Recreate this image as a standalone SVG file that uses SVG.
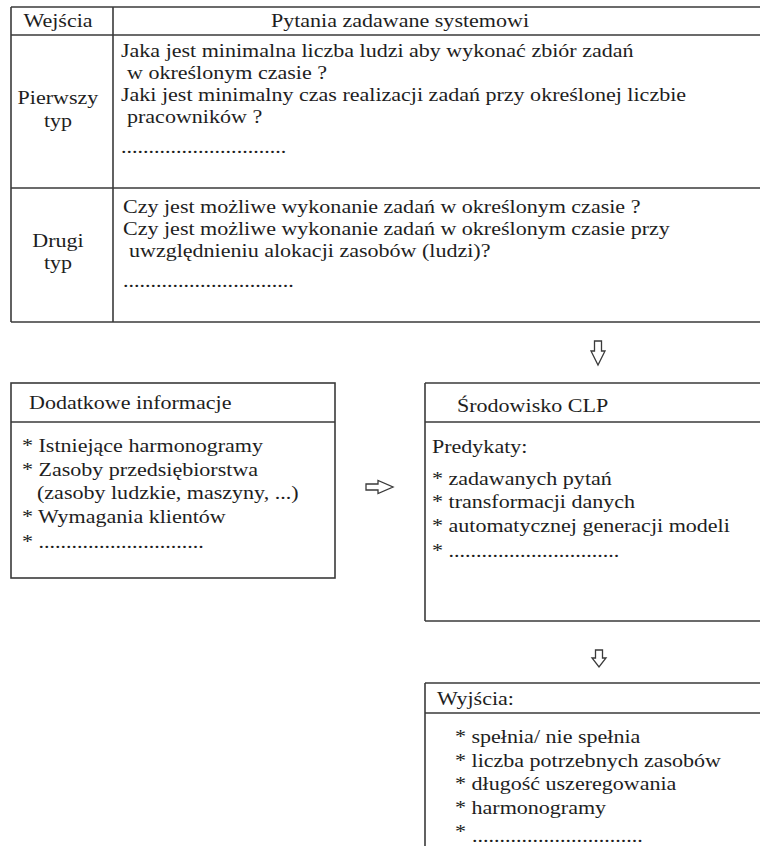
<svg xmlns="http://www.w3.org/2000/svg" width="760" height="846" viewBox="0 0 760 846">
<style>
  .ln { stroke: #3a3a3a; stroke-width: 1.6; fill: none; }
  .t { font-family: 'Liberation Serif', 'Times New Roman', serif; font-size: 19px; fill: #1e1e1e;
       transform-box: fill-box; transform-origin: 0 0; transform: scaleX(1.16); }
  .c { text-anchor: middle; transform-origin: 50% 0; }
  .arrow { fill: #ffffff; stroke: #3a3a3a; stroke-width: 1.3; stroke-linejoin: miter; }
</style>
<rect x="0" y="0" width="760" height="846" fill="#ffffff"/>

<g id="table">
  <line class="ln" x1="11" y1="7" x2="760" y2="7"/>
  <line class="ln" x1="11" y1="35" x2="760" y2="35"/>
  <line class="ln" x1="11" y1="188" x2="760" y2="188"/>
  <line class="ln" x1="11" y1="322" x2="760" y2="322"/>
  <line class="ln" x1="11" y1="7" x2="11" y2="322"/>
  <line class="ln" x1="113" y1="7" x2="113" y2="322"/>
  <text class="t c" x="58" y="27">Wejścia</text>
  <text class="t c" x="400" y="27">Pytania zadawane systemowi</text>
  <text class="t c" x="58" y="104">Pierwszy</text>
  <text class="t c" x="58" y="127">typ</text>
  <text class="t" x="121" y="57">Jaka jest minimalna liczba ludzi aby wykonać zbiór zadań</text>
  <text class="t" x="127" y="79">w określonym czasie ?</text>
  <text class="t" x="121" y="101">Jaki jest minimalny czas realizacji zadań przy określonej liczbie</text>
  <text class="t" x="127" y="123">pracowników ?</text>
  <text class="t" x="121" y="153">..............................</text>
  <text class="t c" x="58" y="247">Drugi</text>
  <text class="t c" x="58" y="269">typ</text>
  <text class="t" x="123" y="213">Czy jest możliwe wykonanie zadań w określonym czasie ?</text>
  <text class="t" x="123" y="235">Czy jest możliwe wykonanie zadań w określonym czasie przy</text>
  <text class="t" x="129" y="257">uwzględnieniu alokacji zasobów (ludzi)?</text>
  <text class="t" x="123" y="287">...............................</text>
</g>

<g id="dodatkowe">
  <rect class="ln" x="11" y="383" width="324" height="195"/>
  <line class="ln" x1="11" y1="422" x2="335" y2="422"/>
  <text class="t" x="29" y="409">Dodatkowe informacje</text>
  <text class="t" x="22" y="452">* Istniejące harmonogramy</text>
  <text class="t" x="22" y="476">* Zasoby przedsiębiorstwa</text>
  <text class="t" x="37" y="499">(zasoby ludzkie, maszyny, ...)</text>
  <text class="t" x="22" y="523">* Wymagania klientów</text>
  <text class="t" x="22" y="548">* ..............................</text>
</g>

<g id="clp">
  <line class="ln" x1="425" y1="383" x2="760" y2="383"/>
  <line class="ln" x1="425" y1="422" x2="760" y2="422"/>
  <line class="ln" x1="425" y1="621" x2="760" y2="621"/>
  <line class="ln" x1="425" y1="383" x2="425" y2="621"/>
  <text class="t" x="457" y="412">Środowisko CLP</text>
  <text class="t" x="432" y="453">Predykaty:</text>
  <text class="t" x="432" y="485">* zadawanych pytań</text>
  <text class="t" x="432" y="508">* transformacji danych</text>
  <text class="t" x="432" y="532">* automatycznej generacji modeli</text>
  <text class="t" x="432" y="557">* ...............................</text>
</g>

<g id="wyjscia">
  <line class="ln" x1="425" y1="683" x2="760" y2="683"/>
  <line class="ln" x1="425" y1="713" x2="760" y2="713"/>
  <line class="ln" x1="425" y1="683" x2="425" y2="846"/>
  <text class="t" x="437" y="705">Wyjścia:</text>
  <text class="t" x="455" y="743">* spełnia/ nie spełnia</text>
  <text class="t" x="455" y="767">* liczba potrzebnych zasobów</text>
  <text class="t" x="455" y="790">* długość uszeregowania</text>
  <text class="t" x="455" y="814">* harmonogramy</text>
  <text class="t" x="455" y="838">*</text>
  <text class="t" x="472" y="842">...............................</text>
</g>

<g id="connectors">
  <polygon class="arrow" points="594.5,341 601.5,341 601.5,351 605,351 598,365 591,351 594.5,351"/>
  <polygon class="arrow" points="366,484 378,484 378,480.5 393,487 378,493.5 378,490 366,490"/>
  <polygon class="arrow" points="595.5,650 602.5,650 602.5,658 606,658 599,667 592,658 595.5,658"/>
</g>
</svg>
